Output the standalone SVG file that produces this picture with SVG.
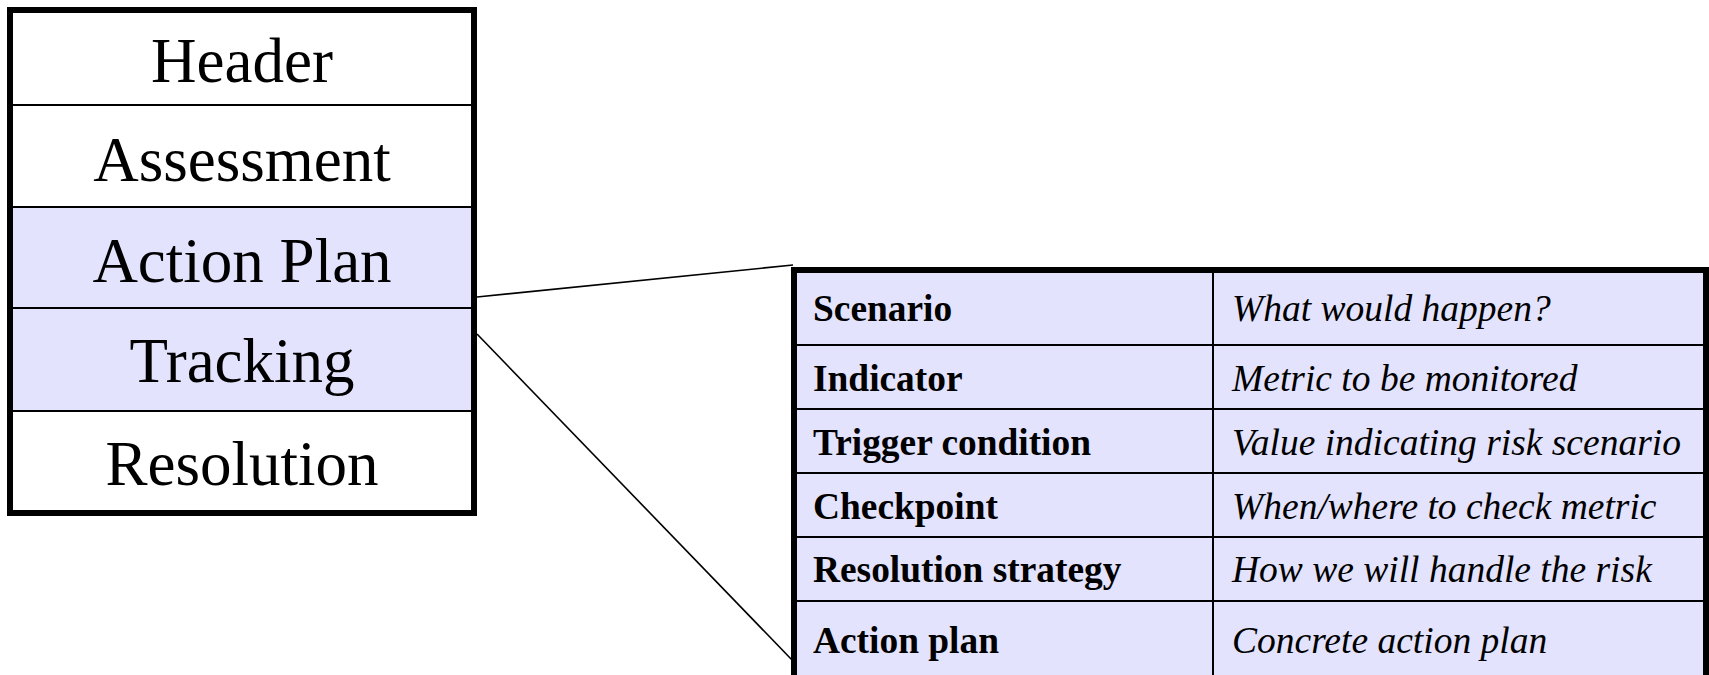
<svg xmlns="http://www.w3.org/2000/svg" width="1709" height="675" viewBox="0 0 1709 675">
<style>
.big{font-family:"Liberation Serif","Times New Roman",serif;font-size:63px;text-anchor:middle;fill:#000}
.lab{font-family:"Liberation Serif","Times New Roman",serif;font-size:37.4px;font-weight:bold;fill:#000}
.val{font-family:"Liberation Serif","Times New Roman",serif;font-size:37.5px;font-style:italic;fill:#000}
.thin{stroke:#000;stroke-width:2;fill:none}
.thick{stroke:#000;stroke-width:6;fill:none}
.hl{fill:#E3E3FD}
.conn{stroke:#000;stroke-width:1.6;fill:none}
</style>
<rect width="1709" height="675" fill="#fff"/>
<g id="left-box">
  <rect x="10" y="10" width="464" height="503" fill="#fff"/>
  <rect class="hl" x="10" y="207" width="464" height="204"/>
  <line class="thin" x1="10" y1="105" x2="474" y2="105"/>
  <line class="thin" x1="10" y1="207" x2="474" y2="207"/>
  <line class="thin" x1="10" y1="308" x2="474" y2="308"/>
  <line class="thin" x1="10" y1="411" x2="474" y2="411"/>
  <rect class="thick" x="10" y="10" width="464" height="503"/>
</g>
<g id="node-header"><text class="big" x="242" y="82">Header</text></g>
<g id="node-assessment"><text class="big" x="242" y="181">Assessment</text></g>
<g id="node-action-plan"><text class="big" x="242" y="282">Action Plan</text></g>
<g id="node-tracking"><text class="big" x="242" y="382">Tracking</text></g>
<g id="node-resolution"><text class="big" x="242" y="485">Resolution</text></g>
<g id="connectors">
  <line class="conn" x1="477" y1="297" x2="793" y2="265"/>
  <line class="conn" x1="477" y1="334" x2="793" y2="661"/>
</g>
<g id="detail-table">
  <rect class="hl" x="794" y="270" width="912" height="430"/>
  <line class="thin" x1="794" y1="345" x2="1706" y2="345"/>
  <line class="thin" x1="794" y1="409" x2="1706" y2="409"/>
  <line class="thin" x1="794" y1="473" x2="1706" y2="473"/>
  <line class="thin" x1="794" y1="537" x2="1706" y2="537"/>
  <line class="thin" x1="794" y1="601" x2="1706" y2="601"/>
  <line class="thin" x1="1213" y1="270" x2="1213" y2="700"/>
  <path class="thick" d="M794,700 V270 H1706 V700"/>
</g>
<g id="row-scenario"><text class="lab" x="813" y="321">Scenario</text><text class="val" x="1232" y="321">What would happen?</text></g>
<g id="row-indicator"><text class="lab" x="813" y="391">Indicator</text><text class="val" x="1232" y="391">Metric to be monitored</text></g>
<g id="row-trigger"><text class="lab" x="813" y="455">Trigger condition</text><text class="val" x="1232" y="455">Value indicating risk scenario</text></g>
<g id="row-checkpoint"><text class="lab" x="813" y="519">Checkpoint</text><text class="val" x="1232" y="519">When/where to check metric</text></g>
<g id="row-resolution"><text class="lab" x="813" y="582">Resolution strategy</text><text class="val" x="1232" y="582">How we will handle the risk</text></g>
<g id="row-action"><text class="lab" x="813" y="653">Action plan</text><text class="val" x="1232" y="653">Concrete action plan</text></g>
</svg>
